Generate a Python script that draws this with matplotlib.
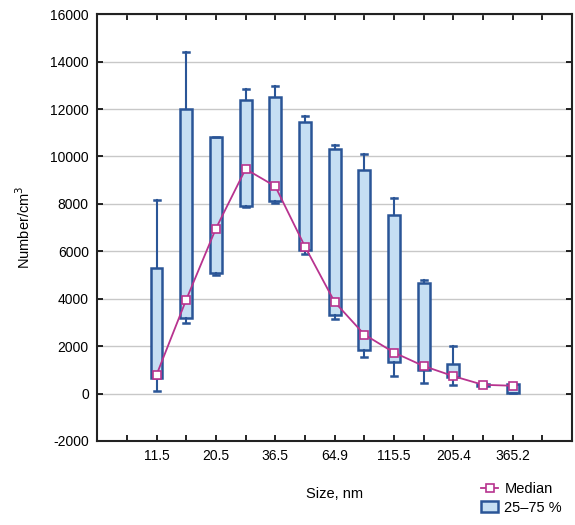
import matplotlib
matplotlib.use("Agg")
import matplotlib.pyplot as plt
from matplotlib.lines import Line2D
from matplotlib.patches import Patch

plt.rcParams["font.family"] = ["Liberation Sans", "DejaVu Sans"]
plt.rcParams["axes.unicode_minus"] = False

sizes = ["11.5", "15.4", "20.5", "27.4", "36.5", "48.7", "64.9",
         "86.6", "115.5", "154.0", "205.4", "273.8", "365.2"]
whisker_lo = [110, 2980, 4980, 7860, 8030, 5900, 3130, 1560, 760, 440, 350, 300, 20]
q1 = [650, 3200, 5080, 7910, 8140, 6050, 3300, 1850, 1350, 1000, 690, 330, 30]
median = [790, 3960, 6960, 9470, 8740, 6200, 3860, 2490, 1730, 1160, 735, 370, 330]
q3 = [5290, 12020, 10800, 12380, 12490, 11470, 10300, 9410, 7530, 4680, 1240, 420, 400]
whisker_hi = [8150, 14400, 10800, 12830, 12970, 11690, 10500, 10100, 8250, 4770, 2010, 430, 400]

blue = "#2a5597"
fill = "#c6dff3"
magenta = "#b8338f"

fig = plt.figure(figsize=(5.75, 5.25), dpi=100)
ax = fig.add_axes([0.169, 0.16, 0.826, 0.813])

pos = list(range(1, len(sizes) + 1))
stats = [
    {"whislo": lo, "q1": a, "med": m, "q3": b, "whishi": hi, "label": s}
    for lo, a, m, b, hi, s in zip(whisker_lo, q1, median, q3, whisker_hi, sizes)
]
ax.bxp(stats, positions=pos, widths=0.4, patch_artist=True, showfliers=False,
       boxprops=dict(facecolor=fill, edgecolor=blue, linewidth=1.8),
       whiskerprops=dict(color=blue, linewidth=1.5),
       capprops=dict(color=blue, linewidth=1.8),
       medianprops=dict(linewidth=0), capwidths=0.2, zorder=2)

ax.plot(pos, median, color=magenta, lw=1.3, marker="s", ms=6,
        mfc="white", mec=magenta, mew=1.2, zorder=3)

ax.set_xlim(-1, 15)
ax.set_ylim(-2000, 16000)
ax.set_yticks(range(-2000, 16001, 2000))
ax.set_xticks(range(0, 15))
ax.set_xticklabels(["" if i % 2 == 0 else sizes[i - 1] for i in range(0, 15)])
ax.yaxis.grid(True, color="#c8c8c8", lw=1)
ax.set_axisbelow(True)
ax.tick_params(direction="in", top=True, right=True, labelsize=10,
               length=4, width=1.2, pad=6)
for sp in ax.spines.values():
    sp.set_linewidth(1.5)
    sp.set_color("#222222")

ax.set_xlabel("Size, nm", fontsize=10.5, labelpad=17)
ax.set_ylabel("Number/cm$^3$", fontsize=10.5, labelpad=12)

handles = [
    Line2D([], [], color=magenta, lw=1.3, marker="s", ms=6, mfc="white",
           mec=magenta, mew=1.2),
    Patch(facecolor=fill, edgecolor=blue, linewidth=1.8),
]
fig.legend(handles, ["Median", "25\u201375 %"], loc="lower right",
           bbox_to_anchor=(1.0, -0.005), frameon=False, fontsize=10.5,
           handlelength=1.2, handletextpad=0.4, labelspacing=0.3)

fig.savefig("out.png", dpi=100)
